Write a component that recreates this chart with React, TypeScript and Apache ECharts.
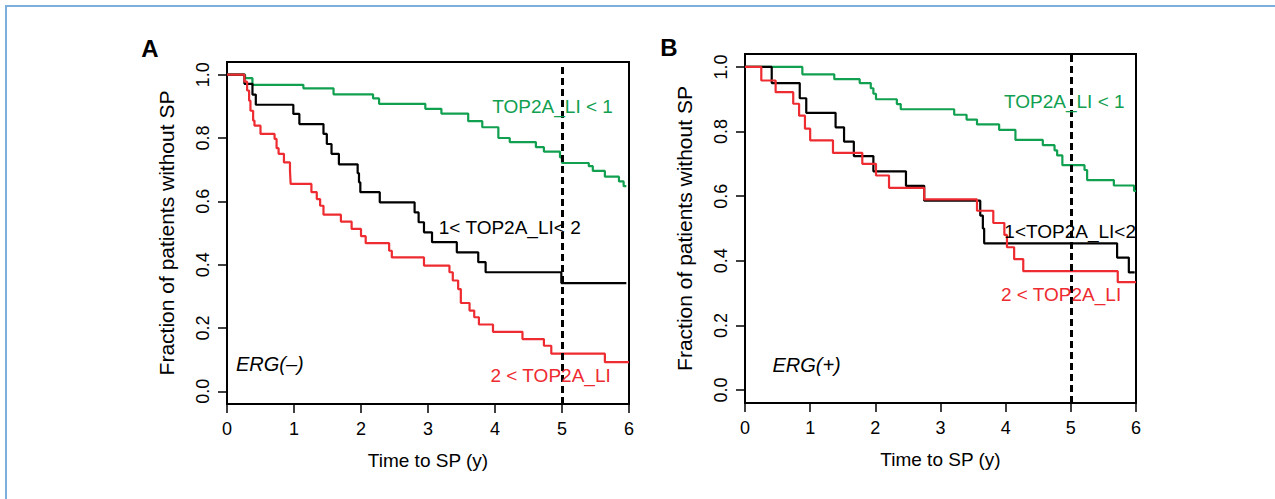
import React, { useEffect, useRef } from 'react';
import * as echarts from 'echarts';

const xTicks = [0, 1, 2, 3, 4, 5, 6];
const yTicks = [0, 0.2, 0.4, 0.6, 0.8, 1.0];
const cutoffYear = 5;

// Panel A: ERG(-)
const aGreen = [[0, 1], [0.27, 0.989], [0.38, 0.968], [1.14, 0.957], [1.59, 0.938], [2.18, 0.925], [2.27, 0.908], [2.96, 0.892], [3.2, 0.877], [3.6, 0.853], [3.81, 0.834], [4.05, 0.8], [4.22, 0.787], [4.61, 0.771], [4.73, 0.757], [4.97, 0.739], [5.0, 0.721], [5.4, 0.711], [5.46, 0.696], [5.64, 0.678], [5.85, 0.663], [5.92, 0.648], [5.96, 0.648]];
const aBlack = [[0, 1], [0.26, 0.971], [0.38, 0.937], [0.43, 0.905], [0.99, 0.876], [1.08, 0.844], [1.44, 0.813], [1.49, 0.781], [1.56, 0.75], [1.67, 0.717], [1.95, 0.689], [1.97, 0.66], [1.99, 0.629], [2.28, 0.597], [2.8, 0.565], [2.86, 0.534], [2.94, 0.502], [3.06, 0.471], [3.43, 0.439], [3.75, 0.408], [3.86, 0.376], [4.99, 0.342], [5.96, 0.342]];
const aRed = [[0, 1], [0.26, 0.978], [0.3, 0.95], [0.33, 0.918], [0.35, 0.886], [0.39, 0.855], [0.41, 0.839], [0.5, 0.813], [0.71, 0.797], [0.74, 0.768], [0.77, 0.75], [0.85, 0.723], [0.94, 0.697], [0.95, 0.655], [1.26, 0.629], [1.34, 0.607], [1.39, 0.586], [1.44, 0.558], [1.7, 0.536], [1.86, 0.513], [2.0, 0.49], [2.07, 0.468], [2.42, 0.444], [2.46, 0.423], [2.94, 0.397], [3.32, 0.376], [3.37, 0.35], [3.45, 0.323], [3.49, 0.279], [3.62, 0.255], [3.69, 0.234], [3.76, 0.211], [3.97, 0.188], [4.41, 0.165], [4.73, 0.144], [4.84, 0.119], [5.64, 0.092], [6.0, 0.092]];

// Panel B: ERG(+)
const bGreen = [[0, 1], [0.88, 0.977], [1.37, 0.962], [1.76, 0.95], [1.93, 0.934], [1.97, 0.917], [2.01, 0.9], [2.33, 0.885], [2.39, 0.869], [3.21, 0.852], [3.4, 0.837], [3.56, 0.822], [3.9, 0.805], [4.15, 0.774], [4.57, 0.758], [4.75, 0.742], [4.79, 0.726], [4.87, 0.696], [5.21, 0.681], [5.25, 0.65], [5.66, 0.633], [5.97, 0.616], [6.0, 0.616]];
const bBlack = [[0, 1], [0.41, 0.95], [0.84, 0.903], [0.94, 0.858], [1.39, 0.813], [1.52, 0.769], [1.67, 0.724], [1.97, 0.677], [2.47, 0.632], [2.75, 0.586], [3.61, 0.54], [3.65, 0.5], [3.67, 0.454], [5.71, 0.41], [5.89, 0.364], [5.98, 0.364]];
const bRed = [[0, 1], [0.25, 0.958], [0.47, 0.922], [0.74, 0.886], [0.83, 0.849], [0.92, 0.809], [1.0, 0.773], [1.35, 0.734], [1.8, 0.7], [2.01, 0.664], [2.21, 0.626], [2.75, 0.59], [3.56, 0.555], [3.81, 0.517], [3.98, 0.48], [4.02, 0.442], [4.13, 0.405], [4.27, 0.368], [5.72, 0.334], [6.0, 0.334]];

// Annotations: [text, t, s]
const aGreenLabel: [string, number, number] = ['TOP2A_LI < 1', 4.86, 0.901];
const aBlackLabel: [string, number, number] = ['1< TOP2A_LI< 2', 4.22, 0.516];
const aRedLabel: [string, number, number] = ['2 < TOP2A_LI', 4.83, 0.049];
const aGroupLabel: [string, number, number] = ['ERG(\u2013)', 0.64, 0.087];
const bGreenLabel: [string, number, number] = ['TOP2A_LI < 1', 4.9, 0.893];
const bBlackLabel: [string, number, number] = ['1<TOP2A_LI<2', 4.99, 0.49];
const bRedLabel: [string, number, number] = ['2 < TOP2A_LI', 4.85, 0.296];
const bGroupLabel: [string, number, number] = ['ERG(+)', 0.945, 0.078];

const GREEN = '#10a050';
const RED = '#ee2b30';
const BLACK = '#000000';
const FONT = '"Liberation Sans", Arial, Helvetica, sans-serif';

function mark(lbl: [string, number, number], color: string, italic = false) {
  return {
    coord: [lbl[1], lbl[2]],
    symbol: 'circle',
    symbolSize: 0,
    label: {
      show: true,
      position: 'inside',
      formatter: lbl[0],
      color,
      fontSize: italic ? 20 : 19,
      fontFamily: FONT,
      fontStyle: italic ? 'italic' : 'normal',
    },
  };
}

function curve(data: number[][], color: string, idx: number, labels: any[]) {
  return {
    type: 'line',
    xAxisIndex: idx,
    yAxisIndex: idx,
    data,
    step: 'end',
    showSymbol: false,
    symbol: 'none',
    lineStyle: { color, width: 2.2 },
    silent: true,
    z: 3,
    markPoint: labels.length ? { silent: true, data: labels, animation: false } : undefined,
  };
}

function cutoff(idx: number) {
  return {
    type: 'line',
    xAxisIndex: idx,
    yAxisIndex: idx,
    data: [],
    z: 4,
    markLine: {
      silent: true,
      symbol: 'none',
      label: { show: false },
      lineStyle: { color: BLACK, width: 3, type: [7, 4] },
      data: [{ xAxis: cutoffYear }],
      animation: false,
    },
  };
}

function xAxis(idx: number) {
  return {
    type: 'value',
    gridIndex: idx,
    min: xTicks[0],
    max: xTicks[xTicks.length - 1],
    interval: 1,
    axisLine: { show: false, onZero: false },
    axisTick: { show: true, length: 9, lineStyle: { color: BLACK, width: 1.5 } },
    axisLabel: { color: BLACK, fontSize: 18, fontFamily: FONT, margin: 16 },
    splitLine: { show: false },
    name: 'Time to SP (y)',
    nameLocation: 'middle',
    nameGap: 47,
    nameTextStyle: { color: BLACK, fontSize: 19, fontFamily: FONT },
  };
}

function yAxis(idx: number) {
  return {
    type: 'value',
    gridIndex: idx,
    min: -0.04,
    max: 1.04,
    axisLine: { show: false, onZero: false },
    axisTick: { show: true, length: 9, lineStyle: { color: BLACK, width: 1.5 }, customValues: yTicks },
    axisLabel: {
      color: BLACK,
      fontSize: 18,
      fontFamily: FONT,
      rotate: 90,
      margin: 15,
      customValues: yTicks,
      formatter: (v: number) => v.toFixed(1),
    },
    splitLine: { show: false },
    name: 'Fraction of patients without SP',
    nameLocation: 'middle',
    nameGap: 50,
    nameTextStyle: { color: BLACK, fontSize: 21, fontFamily: FONT },
  };
}

export default function App() {
  const ref = useRef<HTMLDivElement>(null);
  useEffect(() => {
    document.body.style.margin = '0';
    const chart = echarts.init(ref.current!, undefined, { renderer: 'svg' });
    chart.setOption({
      animation: false,
      backgroundColor: '#ffffff',
      textStyle: { fontFamily: FONT },
      grid: [
        { left: 227, top: 62, width: 402, height: 342, show: true, borderColor: BLACK, borderWidth: 2, backgroundColor: 'transparent' },
        { left: 745, top: 54, width: 391, height: 349, show: true, borderColor: BLACK, borderWidth: 2, backgroundColor: 'transparent' },
      ],
      xAxis: [xAxis(0), xAxis(1)],
      yAxis: [yAxis(0), yAxis(1)],
      series: [
        curve(aGreen, GREEN, 0, [mark(aGreenLabel, GREEN)]),
        curve(aBlack, BLACK, 0, [mark(aBlackLabel, BLACK), mark(aGroupLabel, BLACK, true)]),
        curve(aRed, RED, 0, [mark(aRedLabel, RED)]),
        cutoff(0),
        curve(bGreen, GREEN, 1, [mark(bGreenLabel, GREEN)]),
        curve(bBlack, BLACK, 1, [mark(bBlackLabel, BLACK), mark(bGroupLabel, BLACK, true)]),
        curve(bRed, RED, 1, [mark(bRedLabel, RED)]),
        cutoff(1),
      ],
      graphic: [
        { type: 'rect', shape: { x: 6, y: 6, width: 1400, height: 700 }, style: { fill: 'none', stroke: '#7eaedb', lineWidth: 2 }, silent: true },
        { type: 'text', x: 150, y: 48, style: { text: 'A', fontSize: 24, fontWeight: 'bold', fontFamily: FONT, fill: BLACK, align: 'center', verticalAlign: 'middle' } },
        { type: 'text', x: 669, y: 47, style: { text: 'B', fontSize: 24, fontWeight: 'bold', fontFamily: FONT, fill: BLACK, align: 'center', verticalAlign: 'middle' } },
      ],
    });
    return () => chart.dispose();
  }, []);
  return <div ref={ref} style={{ width: 1275, height: 499 }} />;
}
